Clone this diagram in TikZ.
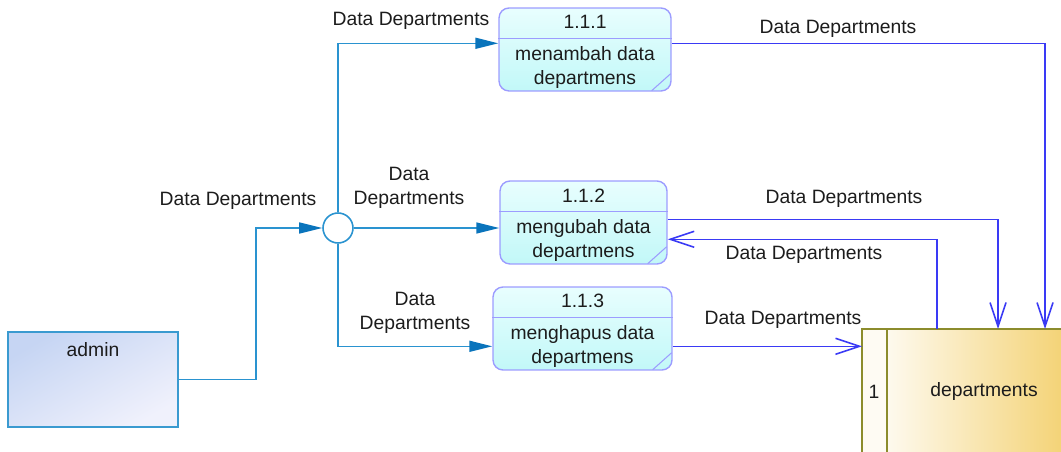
\documentclass[tikz,border=0pt]{standalone}
\usepackage{fontspec}
\setmainfont{Liberation Sans}
\usepackage{xcolor}
\usetikzlibrary{arrows.meta,calc}

\definecolor{flowA}{HTML}{2A93D0}
\definecolor{tipA}{HTML}{0A74BC}
\definecolor{flowB}{HTML}{3A3AF5}
\definecolor{procLine}{HTML}{9C9CFF}
\definecolor{procTop}{HTML}{E8FEFE}
\definecolor{procBot}{HTML}{C2F8F8}
\definecolor{admTop}{HTML}{C6D5F3}
\definecolor{admBot}{HTML}{F0F1FC}
\definecolor{admLine}{HTML}{3A9AD0}
\definecolor{storeLine}{HTML}{8C8C2C}
\definecolor{storeGold}{HTML}{F3CF6A}
\definecolor{txt}{HTML}{1C1C1C}

\begin{document}
\begin{tikzpicture}[x=0.02cm,y=-0.02cm,
  every node/.style={font=\fontsize{11}{13.4}\selectfont, text=txt},
  proc/.style={draw=procLine, line width=0.8pt, rounded corners=0.2cm,
    top color=procTop, bottom color=procBot, minimum height=1.66cm, inner sep=0pt},
  flowL/.style={draw=flowA, line width=0.9pt, -{Triangle[length=0.46cm,width=0.22cm,color=tipA]}},
  flowR/.style={draw=flowB, line width=0.9pt, -{Straight Barb[length=0.48cm,width=0.32cm]}},
  lbl/.style={align=center, inner sep=1pt}]
  \useasboundingbox (0,0) rectangle (1061,452);
  \clip (0,0) rectangle (1061,452);

  % Draw the external entity
  \node[draw=admLine, line width=0.9pt, top color=admTop, bottom color=admBot, shading angle=30,
    minimum width=3.4cm, minimum height=1.9cm, inner sep=0pt] (adm) at (93,379.5) {};
  \node (admtxt) at (93,350) {admin};

  % Draw the junction
  \node[draw=flowA, line width=0.9pt, fill=white, circle, minimum size=0.6cm, inner sep=0pt] (junc) at (338,228) {};

  % Draw the processes
  \node[proc, minimum width=3.44cm] (p1) at (585,49.5) {};
  \node[proc, minimum width=3.34cm] (p2) at (583.5,222.5) {};
  \node[proc, minimum width=3.58cm] (p3) at (582.5,328.5) {};
  \draw[procLine, line width=0.8pt] ($(p1.north west)+(0,31)$) -- ($(p1.north east)+(0,31)$);
  \draw[procLine, line width=0.8pt] ($(p2.north west)+(0,31)$) -- ($(p2.north east)+(0,31)$);
  \draw[procLine, line width=0.8pt] ($(p3.north west)+(0,31)$) -- ($(p3.north east)+(0,31)$);
  \draw[procLine, line width=0.6pt] ($(p1.south east)+(-1,-18)$) -- ($(p1.south east)+(-20,-1)$);
  \draw[procLine, line width=0.6pt] ($(p2.south east)+(-1,-18)$) -- ($(p2.south east)+(-20,-1)$);
  \draw[procLine, line width=0.6pt] ($(p3.south east)+(-1,-18)$) -- ($(p3.south east)+(-20,-1)$);
  \node (p1num) at ($(p1.north)+(0,15)$) {1.1.1};
  \node (p2num) at ($(p2.north)+(0,15)$) {1.1.2};
  \node (p3num) at ($(p3.north)+(0,15)$) {1.1.3};
  \node[align=center] (p1txt) at ($(p1.north)+(0,60)$) {menambah data\\departmens};
  \node[align=center] (p2txt) at ($(p2.north)+(0,60)$) {mengubah data\\departmens};
  \node[align=center] (p3txt) at ($(p3.north)+(0,60)$) {menghapus data\\departmens};

  % Draw the data store
  \node[minimum width=4.38cm, minimum height=2.52cm, anchor=north west, inner sep=0pt] (st) at (862,329) {};
  \shade[left color=white, right color=storeGold] (st.north west) rectangle (st.south east);
  \draw[storeLine, line width=0.9pt] (st.north west) rectangle (st.south east);
  \draw[storeLine, line width=0.9pt, fill=white!92!storeGold] (st.north west) rectangle ($(st.south west)+(25,0)$);
  \node (stnum) at (874,392) {1};
  \node (sttxt) at (984,392) {departments};

  % Draw the flows from admin
  \draw[flowL] (adm.east) -- ++(77,0) |- (junc.west);
  \draw[flowL] (junc.north) |- ($(p1.north west)+(0,36)$);
  \draw[flowL] (junc.east) -- (junc.east -| p2.west);
  \draw[flowL] (junc.south) |- ($(p3.north west)+(0,60)$);

  % Draw the flows to and from the store
  \coordinate (p1out) at ($(p1.north east)+(0,36)$);
  \coordinate (p2out) at ($(p2.north east)+(0,39)$);
  \coordinate (p2in) at ($(p2.north east)+(0,59)$);
  \coordinate (p3out) at ($(p3.north east)+(0,60)$);
  \draw[flowR] (p1out) -| ($(st.north west)+(183,0)$);
  \draw[flowR] (p2out) -| ($(st.north west)+(136,0)$);
  \draw[flowR] ($(st.north west)+(75,0)$) |- (p2in);
  \draw[flowR] (p3out) -- (p3out -| st.west);

  % Draw flow labels
  \node[lbl] (l0) at (238,201) {Data Departments};
  \node[lbl] (l1) at (411,21) {Data Departments};
  \node[lbl] (l2) at (409,188) {Data\\Departments};
  \node[lbl] (l3) at (415,313) {Data\\Departments};
  \node[lbl] (l4) at (838,29) {Data Departments};
  \node[lbl] (l5) at (844,199) {Data Departments};
  \node[lbl] (l6) at (804,255) {Data Departments};
  \node[lbl] (l7) at (783,320) {Data Departments};
\end{tikzpicture}
\end{document}
